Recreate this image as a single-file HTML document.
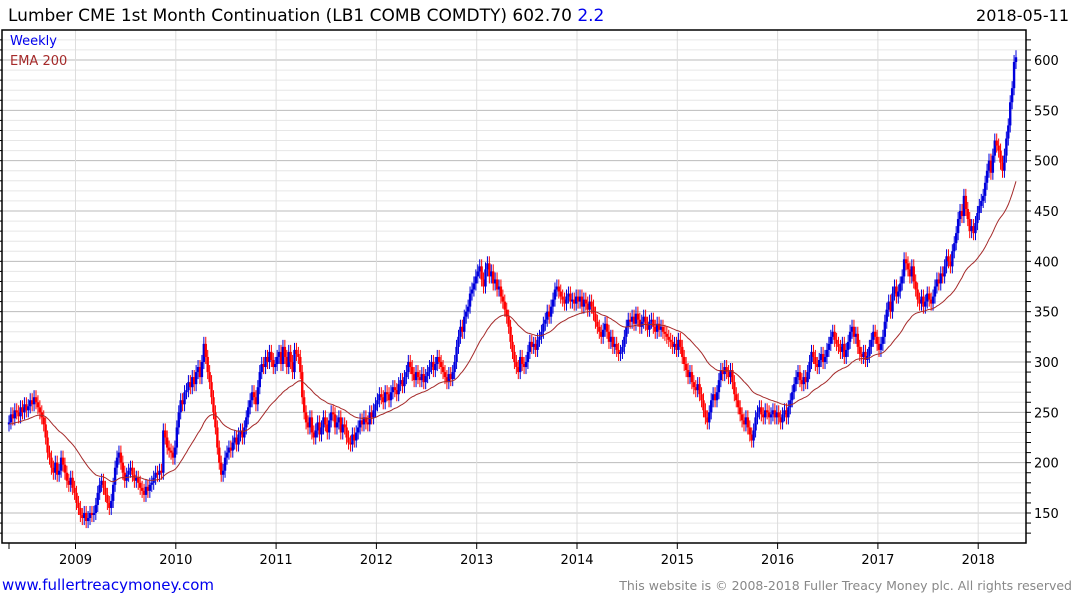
<!DOCTYPE html>
<html><head><meta charset="utf-8">
<style>
body{margin:0;background:#fff;width:1075px;height:600px;overflow:hidden;font-family:"DejaVu Sans","Liberation Sans",sans-serif}
svg{position:absolute;left:0;top:0}
text{font-family:"DejaVu Sans","Liberation Sans",sans-serif}
</style></head>
<body>
<svg id="chart" width="1075" height="600" xmlns="http://www.w3.org/2000/svg">
<text x="8" y="21" font-size="17" fill="#000">Lumber CME 1st Month Continuation (LB1 COMB COMDTY) 602.70 <tspan fill="#0000ee">2.2</tspan></text>
<text x="1069" y="21" font-size="16" fill="#000" text-anchor="end">2018-05-11</text>
<g id="grid"></g>
<g id="marks"></g>
<rect x="2" y="30" width="1024" height="513" fill="none" stroke="#000" stroke-width="1.5"/>
<text x="10" y="45" font-size="13" fill="#0000ee">Weekly</text>
<text x="10" y="65" font-size="13" fill="#a52a2a">EMA 200</text>
<text x="2" y="590" font-size="15" fill="#0000ee">www.fullertreacymoney.com</text>
<text x="1072" y="590" font-size="12.5" fill="#888" text-anchor="end">This website is © 2008-2018 Fuller Treacy Money plc. All rights reserved</text>
</svg>
<script>
const yTicks=[150,200,250,300,350,400,450,500,550,600];
const xYears=[2009,2010,2011,2012,2013,2014,2015,2016,2017,2018];
const closes=[
240,248,244,252,250,246,255,250,258,252,256,262,258,265,260,255,250,245,238,225,210,205,195,190,200,188,192,205,198,190,182,178,185,175,170,
160,155,148,145,150,142,145,150,148,150,158,170,178,182,175,168,160,155,162,178,195,205,210,200,190,182,188,192,195,188,182,185,180,175,172,168,176,172,178,180,185,190,188,192,190,232,225,215,212,210,205,215,
235,250,262,258,270,272,280,275,285,278,290,295,285,300,318,305,290,280,265,250,235,215,200,188,192,205,210,215,212,220,225,218,228,232,225,235,245,255,262,270,265,258,275,290,298,295,305,300,310,302,295,298,
305,310,298,315,305,295,310,300,290,312,308,305,290,265,250,240,235,245,230,225,232,240,228,235,245,238,230,242,250,248,235,240,245,230,238,235,225,220,218,228,222,230,235,242,238,245,240,238,250,245,252,258,
262,268,265,260,270,268,262,270,275,272,268,278,282,276,285,290,300,295,288,282,290,285,282,288,280,286,290,295,300,292,298,305,300,295,290,285,280,288,283,290,300,315,325,335,330,345,350,355,368,372,378,385,
390,395,382,375,392,398,385,390,378,382,372,375,365,360,352,345,335,320,310,300,295,290,305,298,295,300,310,320,315,318,312,322,325,330,338,342,350,345,355,362,372,375,370,365,362,358,365,368,360,362,358,365,
360,365,355,362,358,352,360,355,348,340,335,330,325,332,338,330,320,325,315,318,312,308,310,315,325,335,342,340,345,338,348,342,335,340,345,338,332,340,342,335,330,338,332,335,330,328,325,322,320,315,318,312,
322,315,305,298,292,285,290,280,275,272,278,268,262,252,245,240,250,262,268,262,270,282,292,288,295,290,285,292,280,268,262,255,248,242,238,245,235,228,222,232,245,250,255,248,245,252,250,245,248,252,245,250,
245,240,248,252,245,255,262,270,278,285,290,282,278,285,280,290,300,310,305,298,295,302,308,300,305,312,318,325,330,322,318,315,310,318,305,312,320,330,335,325,328,315,308,305,310,302,306,315,322,330,325,318,
312,318,325,340,352,360,350,368,375,365,370,378,385,402,398,392,385,395,380,372,362,358,365,355,360,368,362,358,365,375,382,378,388,385,395,405,400,395,410,418,428,442,450,445,465,452,442,430,435,428,438,448,
455,460,465,478,490,500,488,505,520,515,510,498,490,505,522,535,558,572,598,602.7];
const emaPeriod=40, emaSeed=238, firstOpen=238;

const NS="http://www.w3.org/2000/svg";
const X0=9, X1=1016;
function xIdx(i){return X0+i*(X1-X0)/(closes.length-1);}
function xYear(y){return 75.5+(y-2009)*100.3;}
function yv(v){return 60+(600-v)*453/450;}
function mk(tag,attrs,parent){const e=document.createElementNS(NS,tag);for(const k in attrs)e.setAttribute(k,attrs[k]);parent.appendChild(e);return e;}
const grid=document.getElementById('grid'), marks=document.getElementById('marks');
for(let v=130;v<=620;v+=10){const y=yv(v);if(y<31||y>542)continue;
 const major=v%50===0;
 const l=mk('line',{x1:2,x2:1026,y1:y,y2:y,stroke:major?'#bbb':'#e6e6e6','stroke-width':1},grid);
 
 
 const t=mk('line',{x1:-3,x2:2,y1:y,y2:y,stroke:'#000','stroke-width':1},grid);
 
 
 const t2=mk('line',{x1:1026,x2:1031,y1:y,y2:y,stroke:'#000','stroke-width':1},grid);
 
 
}
yTicks.forEach(v=>{const t=mk('text',{x:1034,y:yv(v)+5,'font-size':13,fill:'#000'},grid);t.textContent=v;
 
 });
const t0=mk('line',{x1:9,x2:9,y1:543,y2:549,stroke:'#000'},grid);


xYears.forEach(yr=>{const x=xYear(yr);
 const l=mk('line',{x1:x,x2:x,y1:30,y2:543,stroke:'#ddd','stroke-width':1},grid);
 
 
 const tk=mk('line',{x1:x,x2:x,y1:543,y2:549,stroke:'#000'},grid);
 
 
 const t=mk('text',{x:x,y:564,'font-size':13,'text-anchor':'middle',fill:'#000'},grid);t.textContent=yr;
 
 });
let prev=firstOpen;
closes.forEach((c,i)=>{const o=prev;prev=c;const up=c>=o;const col=up?'#0000dd':'#ff0000';
 const x=xIdx(i);const hi=Math.max(o,c)+7, lo=Math.min(o,c)-7;
 const g=mk('g',{},marks);
 
 
 mk('line',{x1:x,x2:x,y1:yv(hi),y2:yv(lo),stroke:col,'stroke-width':1},g);
 const top=yv(Math.max(o,c)),bot=yv(Math.min(o,c));
 mk('rect',{x:x-1.2,y:top,width:2.4,height:Math.max(1,bot-top),fill:col},g);
});
let e=emaSeed;const k=2/(emaPeriod+1);let d='';
closes.forEach((c,i)=>{e=c*k+e*(1-k);d+=(i?'L':'M')+xIdx(i).toFixed(1)+','+yv(e).toFixed(1);});
const p=mk('path',{d:d,fill:'none',stroke:'#a52a2a','stroke-width':1},marks);


</script>
</body></html>
